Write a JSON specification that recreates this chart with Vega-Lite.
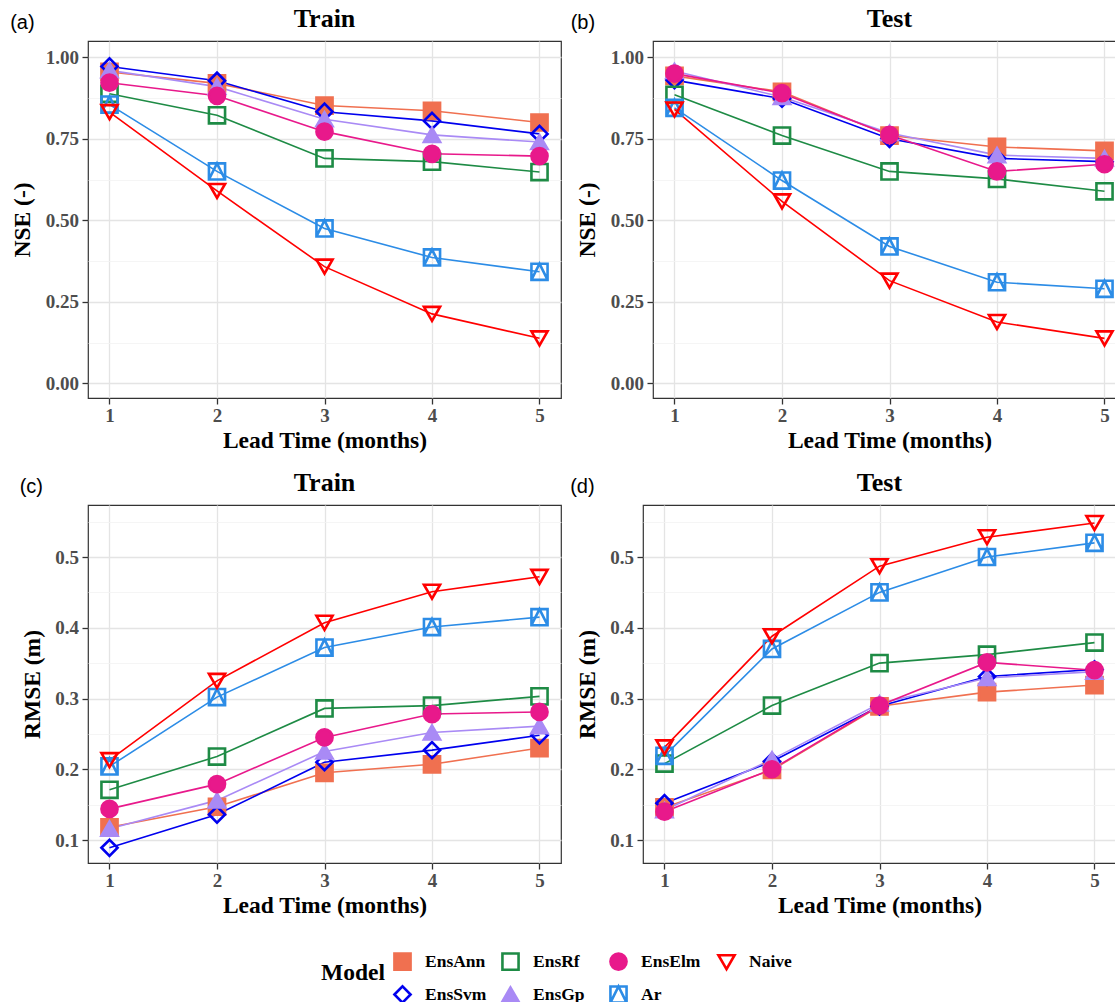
{
  "$schema": "https://vega.github.io/schema/vega-lite/v6.json",
  "background": "white",
  "padding": {"left": 10, "top": 5, "right": 0, "bottom": 0},
  "datasets": {
    "scores": [
      {"metric": "NSE", "set": "Train", "lead": 1, "model": "EnsAnn", "value": 0.955},
      {"metric": "NSE", "set": "Train", "lead": 2, "model": "EnsAnn", "value": 0.92},
      {"metric": "NSE", "set": "Train", "lead": 3, "model": "EnsAnn", "value": 0.852},
      {"metric": "NSE", "set": "Train", "lead": 4, "model": "EnsAnn", "value": 0.836},
      {"metric": "NSE", "set": "Train", "lead": 5, "model": "EnsAnn", "value": 0.8},
      {"metric": "NSE", "set": "Train", "lead": 1, "model": "EnsSvm", "value": 0.972},
      {"metric": "NSE", "set": "Train", "lead": 2, "model": "EnsSvm", "value": 0.928},
      {"metric": "NSE", "set": "Train", "lead": 3, "model": "EnsSvm", "value": 0.833},
      {"metric": "NSE", "set": "Train", "lead": 4, "model": "EnsSvm", "value": 0.805},
      {"metric": "NSE", "set": "Train", "lead": 5, "model": "EnsSvm", "value": 0.765},
      {"metric": "NSE", "set": "Train", "lead": 1, "model": "EnsRf", "value": 0.888},
      {"metric": "NSE", "set": "Train", "lead": 2, "model": "EnsRf", "value": 0.822},
      {"metric": "NSE", "set": "Train", "lead": 3, "model": "EnsRf", "value": 0.69},
      {"metric": "NSE", "set": "Train", "lead": 4, "model": "EnsRf", "value": 0.68},
      {"metric": "NSE", "set": "Train", "lead": 5, "model": "EnsRf", "value": 0.648},
      {"metric": "NSE", "set": "Train", "lead": 1, "model": "EnsGp", "value": 0.96},
      {"metric": "NSE", "set": "Train", "lead": 2, "model": "EnsGp", "value": 0.91},
      {"metric": "NSE", "set": "Train", "lead": 3, "model": "EnsGp", "value": 0.81},
      {"metric": "NSE", "set": "Train", "lead": 4, "model": "EnsGp", "value": 0.762},
      {"metric": "NSE", "set": "Train", "lead": 5, "model": "EnsGp", "value": 0.74},
      {"metric": "NSE", "set": "Train", "lead": 1, "model": "EnsElm", "value": 0.922},
      {"metric": "NSE", "set": "Train", "lead": 2, "model": "EnsElm", "value": 0.882},
      {"metric": "NSE", "set": "Train", "lead": 3, "model": "EnsElm", "value": 0.772},
      {"metric": "NSE", "set": "Train", "lead": 4, "model": "EnsElm", "value": 0.704},
      {"metric": "NSE", "set": "Train", "lead": 5, "model": "EnsElm", "value": 0.697},
      {"metric": "NSE", "set": "Train", "lead": 1, "model": "Ar", "value": 0.855},
      {"metric": "NSE", "set": "Train", "lead": 2, "model": "Ar", "value": 0.65},
      {"metric": "NSE", "set": "Train", "lead": 3, "model": "Ar", "value": 0.475},
      {"metric": "NSE", "set": "Train", "lead": 4, "model": "Ar", "value": 0.386},
      {"metric": "NSE", "set": "Train", "lead": 5, "model": "Ar", "value": 0.342},
      {"metric": "NSE", "set": "Train", "lead": 1, "model": "Naive", "value": 0.832},
      {"metric": "NSE", "set": "Train", "lead": 2, "model": "Naive", "value": 0.59},
      {"metric": "NSE", "set": "Train", "lead": 3, "model": "Naive", "value": 0.358},
      {"metric": "NSE", "set": "Train", "lead": 4, "model": "Naive", "value": 0.213},
      {"metric": "NSE", "set": "Train", "lead": 5, "model": "Naive", "value": 0.138},

      {"metric": "NSE", "set": "Test", "lead": 1, "model": "EnsAnn", "value": 0.943},
      {"metric": "NSE", "set": "Test", "lead": 2, "model": "EnsAnn", "value": 0.894},
      {"metric": "NSE", "set": "Test", "lead": 3, "model": "EnsAnn", "value": 0.76},
      {"metric": "NSE", "set": "Test", "lead": 4, "model": "EnsAnn", "value": 0.725},
      {"metric": "NSE", "set": "Test", "lead": 5, "model": "EnsAnn", "value": 0.713},
      {"metric": "NSE", "set": "Test", "lead": 1, "model": "EnsSvm", "value": 0.93},
      {"metric": "NSE", "set": "Test", "lead": 2, "model": "EnsSvm", "value": 0.873},
      {"metric": "NSE", "set": "Test", "lead": 3, "model": "EnsSvm", "value": 0.75},
      {"metric": "NSE", "set": "Test", "lead": 4, "model": "EnsSvm", "value": 0.69},
      {"metric": "NSE", "set": "Test", "lead": 5, "model": "EnsSvm", "value": 0.68},
      {"metric": "NSE", "set": "Test", "lead": 1, "model": "EnsRf", "value": 0.885},
      {"metric": "NSE", "set": "Test", "lead": 2, "model": "EnsRf", "value": 0.76},
      {"metric": "NSE", "set": "Test", "lead": 3, "model": "EnsRf", "value": 0.65},
      {"metric": "NSE", "set": "Test", "lead": 4, "model": "EnsRf", "value": 0.627},
      {"metric": "NSE", "set": "Test", "lead": 5, "model": "EnsRf", "value": 0.589},
      {"metric": "NSE", "set": "Test", "lead": 1, "model": "EnsGp", "value": 0.958},
      {"metric": "NSE", "set": "Test", "lead": 2, "model": "EnsGp", "value": 0.878},
      {"metric": "NSE", "set": "Test", "lead": 3, "model": "EnsGp", "value": 0.768},
      {"metric": "NSE", "set": "Test", "lead": 4, "model": "EnsGp", "value": 0.7},
      {"metric": "NSE", "set": "Test", "lead": 5, "model": "EnsGp", "value": 0.69},
      {"metric": "NSE", "set": "Test", "lead": 1, "model": "EnsElm", "value": 0.95},
      {"metric": "NSE", "set": "Test", "lead": 2, "model": "EnsElm", "value": 0.89},
      {"metric": "NSE", "set": "Test", "lead": 3, "model": "EnsElm", "value": 0.762},
      {"metric": "NSE", "set": "Test", "lead": 4, "model": "EnsElm", "value": 0.65},
      {"metric": "NSE", "set": "Test", "lead": 5, "model": "EnsElm", "value": 0.672},
      {"metric": "NSE", "set": "Test", "lead": 1, "model": "Ar", "value": 0.845},
      {"metric": "NSE", "set": "Test", "lead": 2, "model": "Ar", "value": 0.622},
      {"metric": "NSE", "set": "Test", "lead": 3, "model": "Ar", "value": 0.42},
      {"metric": "NSE", "set": "Test", "lead": 4, "model": "Ar", "value": 0.31},
      {"metric": "NSE", "set": "Test", "lead": 5, "model": "Ar", "value": 0.29},
      {"metric": "NSE", "set": "Test", "lead": 1, "model": "Naive", "value": 0.84},
      {"metric": "NSE", "set": "Test", "lead": 2, "model": "Naive", "value": 0.558},
      {"metric": "NSE", "set": "Test", "lead": 3, "model": "Naive", "value": 0.315},
      {"metric": "NSE", "set": "Test", "lead": 4, "model": "Naive", "value": 0.188},
      {"metric": "NSE", "set": "Test", "lead": 5, "model": "Naive", "value": 0.138},

      {"metric": "RMSE", "set": "Train", "lead": 1, "model": "EnsAnn", "value": 0.118},
      {"metric": "RMSE", "set": "Train", "lead": 2, "model": "EnsAnn", "value": 0.147},
      {"metric": "RMSE", "set": "Train", "lead": 3, "model": "EnsAnn", "value": 0.195},
      {"metric": "RMSE", "set": "Train", "lead": 4, "model": "EnsAnn", "value": 0.207},
      {"metric": "RMSE", "set": "Train", "lead": 5, "model": "EnsAnn", "value": 0.23},
      {"metric": "RMSE", "set": "Train", "lead": 1, "model": "EnsSvm", "value": 0.089},
      {"metric": "RMSE", "set": "Train", "lead": 2, "model": "EnsSvm", "value": 0.136},
      {"metric": "RMSE", "set": "Train", "lead": 3, "model": "EnsSvm", "value": 0.21},
      {"metric": "RMSE", "set": "Train", "lead": 4, "model": "EnsSvm", "value": 0.227},
      {"metric": "RMSE", "set": "Train", "lead": 5, "model": "EnsSvm", "value": 0.248},
      {"metric": "RMSE", "set": "Train", "lead": 1, "model": "EnsRf", "value": 0.171},
      {"metric": "RMSE", "set": "Train", "lead": 2, "model": "EnsRf", "value": 0.218},
      {"metric": "RMSE", "set": "Train", "lead": 3, "model": "EnsRf", "value": 0.286},
      {"metric": "RMSE", "set": "Train", "lead": 4, "model": "EnsRf", "value": 0.29},
      {"metric": "RMSE", "set": "Train", "lead": 5, "model": "EnsRf", "value": 0.303},
      {"metric": "RMSE", "set": "Train", "lead": 1, "model": "EnsGp", "value": 0.116},
      {"metric": "RMSE", "set": "Train", "lead": 2, "model": "EnsGp", "value": 0.156},
      {"metric": "RMSE", "set": "Train", "lead": 3, "model": "EnsGp", "value": 0.225},
      {"metric": "RMSE", "set": "Train", "lead": 4, "model": "EnsGp", "value": 0.252},
      {"metric": "RMSE", "set": "Train", "lead": 5, "model": "EnsGp", "value": 0.261},
      {"metric": "RMSE", "set": "Train", "lead": 1, "model": "EnsElm", "value": 0.144},
      {"metric": "RMSE", "set": "Train", "lead": 2, "model": "EnsElm", "value": 0.179},
      {"metric": "RMSE", "set": "Train", "lead": 3, "model": "EnsElm", "value": 0.245},
      {"metric": "RMSE", "set": "Train", "lead": 4, "model": "EnsElm", "value": 0.278},
      {"metric": "RMSE", "set": "Train", "lead": 5, "model": "EnsElm", "value": 0.281},
      {"metric": "RMSE", "set": "Train", "lead": 1, "model": "Ar", "value": 0.204},
      {"metric": "RMSE", "set": "Train", "lead": 2, "model": "Ar", "value": 0.302},
      {"metric": "RMSE", "set": "Train", "lead": 3, "model": "Ar", "value": 0.372},
      {"metric": "RMSE", "set": "Train", "lead": 4, "model": "Ar", "value": 0.401},
      {"metric": "RMSE", "set": "Train", "lead": 5, "model": "Ar", "value": 0.415},
      {"metric": "RMSE", "set": "Train", "lead": 1, "model": "Naive", "value": 0.213},
      {"metric": "RMSE", "set": "Train", "lead": 2, "model": "Naive", "value": 0.325},
      {"metric": "RMSE", "set": "Train", "lead": 3, "model": "Naive", "value": 0.407},
      {"metric": "RMSE", "set": "Train", "lead": 4, "model": "Naive", "value": 0.451},
      {"metric": "RMSE", "set": "Train", "lead": 5, "model": "Naive", "value": 0.472},

      {"metric": "RMSE", "set": "Test", "lead": 1, "model": "EnsAnn", "value": 0.146},
      {"metric": "RMSE", "set": "Test", "lead": 2, "model": "EnsAnn", "value": 0.199},
      {"metric": "RMSE", "set": "Test", "lead": 3, "model": "EnsAnn", "value": 0.289},
      {"metric": "RMSE", "set": "Test", "lead": 4, "model": "EnsAnn", "value": 0.309},
      {"metric": "RMSE", "set": "Test", "lead": 5, "model": "EnsAnn", "value": 0.319},
      {"metric": "RMSE", "set": "Test", "lead": 1, "model": "EnsSvm", "value": 0.152},
      {"metric": "RMSE", "set": "Test", "lead": 2, "model": "EnsSvm", "value": 0.211},
      {"metric": "RMSE", "set": "Test", "lead": 3, "model": "EnsSvm", "value": 0.289},
      {"metric": "RMSE", "set": "Test", "lead": 4, "model": "EnsSvm", "value": 0.331},
      {"metric": "RMSE", "set": "Test", "lead": 5, "model": "EnsSvm", "value": 0.341},
      {"metric": "RMSE", "set": "Test", "lead": 1, "model": "EnsRf", "value": 0.208},
      {"metric": "RMSE", "set": "Test", "lead": 2, "model": "EnsRf", "value": 0.29},
      {"metric": "RMSE", "set": "Test", "lead": 3, "model": "EnsRf", "value": 0.35},
      {"metric": "RMSE", "set": "Test", "lead": 4, "model": "EnsRf", "value": 0.362},
      {"metric": "RMSE", "set": "Test", "lead": 5, "model": "EnsRf", "value": 0.379},
      {"metric": "RMSE", "set": "Test", "lead": 1, "model": "EnsGp", "value": 0.142},
      {"metric": "RMSE", "set": "Test", "lead": 2, "model": "EnsGp", "value": 0.214},
      {"metric": "RMSE", "set": "Test", "lead": 3, "model": "EnsGp", "value": 0.293},
      {"metric": "RMSE", "set": "Test", "lead": 4, "model": "EnsGp", "value": 0.329},
      {"metric": "RMSE", "set": "Test", "lead": 5, "model": "EnsGp", "value": 0.338},
      {"metric": "RMSE", "set": "Test", "lead": 1, "model": "EnsElm", "value": 0.14},
      {"metric": "RMSE", "set": "Test", "lead": 2, "model": "EnsElm", "value": 0.2},
      {"metric": "RMSE", "set": "Test", "lead": 3, "model": "EnsElm", "value": 0.29},
      {"metric": "RMSE", "set": "Test", "lead": 4, "model": "EnsElm", "value": 0.351},
      {"metric": "RMSE", "set": "Test", "lead": 5, "model": "EnsElm", "value": 0.34},
      {"metric": "RMSE", "set": "Test", "lead": 1, "model": "Ar", "value": 0.219},
      {"metric": "RMSE", "set": "Test", "lead": 2, "model": "Ar", "value": 0.37},
      {"metric": "RMSE", "set": "Test", "lead": 3, "model": "Ar", "value": 0.45},
      {"metric": "RMSE", "set": "Test", "lead": 4, "model": "Ar", "value": 0.5},
      {"metric": "RMSE", "set": "Test", "lead": 5, "model": "Ar", "value": 0.52},
      {"metric": "RMSE", "set": "Test", "lead": 1, "model": "Naive", "value": 0.231},
      {"metric": "RMSE", "set": "Test", "lead": 2, "model": "Naive", "value": 0.388},
      {"metric": "RMSE", "set": "Test", "lead": 3, "model": "Naive", "value": 0.487},
      {"metric": "RMSE", "set": "Test", "lead": 4, "model": "Naive", "value": 0.528},
      {"metric": "RMSE", "set": "Test", "lead": 5, "model": "Naive", "value": 0.548}
    ]
  },
  "data": {"name": "scores"},
  "config": {
    "view": {"stroke": "#333333", "strokeWidth": 1.2},
    "title": {"font": "Liberation Serif", "fontSize": 26, "fontWeight": "bold", "color": "#000000", "frame": "group", "anchor": "middle", "offset": 9},
    "axis": {
      "domain": false,
      "tickColor": "#333333",
      "tickSize": 6,
      "tickWidth": 1.3,
      "labelFont": "Liberation Serif",
      "labelFontWeight": "bold",
      "labelFontSize": 19,
      "labelColor": "#4D4D4D",
      "titleFont": "Liberation Serif",
      "titleFontWeight": "bold",
      "titleFontSize": 23.5,
      "titleColor": "#000000"
    },
    "axisX": {"titlePadding": 3, "labelPadding": 2},
    "axisY": {"titlePadding": 10.5, "labelPadding": 3.5},
    "legend": {
      "orient": "none",
      "legendX": 233,
      "legendY": 911,
      "direction": "horizontal",
      "columns": 4,
      "gridAlign": "all",
      "titleOrient": "left",
      "titleFont": "Liberation Serif",
      "titleFontSize": 23.5,
      "titleFontWeight": "bold",
      "titleColor": "#000000",
      "titlePadding": 8,
      "titleAnchor": "middle",
      "titleBaseline": "alphabetic",
      "labelFont": "Liberation Serif",
      "labelFontSize": 17.5,
      "labelFontWeight": "bold",
      "labelColor": "#000000",
      "labelOffset": 13,
      "symbolStrokeWidth": 2.6,
      "columnPadding": 10,
      "rowPadding": 6
    }
  },
  "resolve": {"scale": {"color": "shared", "shape": "shared", "fill": "shared", "size": "shared"}},
  "spacing": 16,
  "vconcat": [
    {
      "spacing": 8,
      "hconcat": [
        {
          "title": {"text": "(a)", "anchor": "start", "frame": "bounds", "font": "Liberation Sans", "fontSize": 20, "fontWeight": "normal", "color": "#000000", "offset": -28},
          "vconcat": [
            {
              "width": 473, "height": 357,
              "title": "Train",
              "transform": [{"filter": "datum.metric === 'NSE' && datum.set === 'Train'"}],
              "encoding": {
                "x": {"field": "lead", "type": "quantitative", "scale": {"domain": [0.8, 5.2], "nice": false, "zero": false},
                  "axis": {"title": "Lead Time (months)", "values": [1, 1.5, 2, 2.5, 3, 3.5, 4, 4.5, 5], "format": "d", "labelExpr": "datum.value % 1 === 0 ? datum.label : ''",
                    "tickOpacity": {"condition": {"test": "datum.value % 1 !== 0", "value": 0}, "value": 1},
                    "gridColor": {"condition": {"test": "datum.value % 1 !== 0", "value": "#F2F2F2"}, "value": "#E4E4E4"},
                    "gridWidth": {"condition": {"test": "datum.value % 1 !== 0", "value": 0.8}, "value": 1.3}}},
                "y": {"field": "value", "type": "quantitative", "scale": {"domain": [-0.045, 1.05], "nice": false, "zero": false},
                  "axis": {"title": "NSE (-)", "values": [0, 0.125, 0.25, 0.375, 0.5, 0.625, 0.75, 0.875, 1], "format": ".2f", "labelExpr": "(datum.value * 4) % 1 === 0 ? datum.label : ''",
                    "tickOpacity": {"condition": {"test": "(datum.value * 4) % 1 !== 0", "value": 0}, "value": 1},
                    "gridColor": {"condition": {"test": "(datum.value * 4) % 1 !== 0", "value": "#F2F2F2"}, "value": "#E4E4E4"},
                    "gridWidth": {"condition": {"test": "(datum.value * 4) % 1 !== 0", "value": 0.8}, "value": 1.3}}},
                "color": {"field": "model", "type": "nominal", "title": "Model",
                  "scale": {"domain": ["EnsAnn", "EnsRf", "EnsElm", "Naive", "EnsSvm", "EnsGp", "Ar"], "range": ["#F07050", "#1E8B45", "#E8198B", "#FF0000", "#0000EE", "#A98AF5", "#2C8CE6"]}}
              },
              "layer": [
                {"mark": {"type": "line", "strokeWidth": 1.6}},
                {"mark": {"type": "point", "filled": false, "strokeWidth": 2.6, "opacity": 1},
                  "encoding": {
                    "shape": {"field": "model", "type": "nominal", "title": "Model", "scale": {"domain": ["EnsAnn", "EnsRf", "EnsElm", "Naive", "EnsSvm", "EnsGp", "Ar"], "range": ["square", "square", "circle", "triangle-down", "diamond", "triangle-up", "M-1,-1H1V1H-1Z M-1,1L0,-1L1,1"]}},
                    "fill": {"field": "model", "type": "nominal", "title": "Model", "scale": {"domain": ["EnsAnn", "EnsRf", "EnsElm", "Naive", "EnsSvm", "EnsGp", "Ar"], "range": ["#F07050", "transparent", "#E8198B", "transparent", "transparent", "#A98AF5", "transparent"]}},
                    "size": {"field": "model", "type": "nominal", "title": "Model", "scale": {"domain": ["EnsAnn", "EnsRf", "EnsElm", "Naive", "EnsSvm", "EnsGp", "Ar"], "range": [260, 260, 230, 380, 420, 320, 300]}}
                  }}
              ]
            }
          ]
        },
        {
          "title": {"text": "(b)", "anchor": "start", "frame": "bounds", "font": "Liberation Sans", "fontSize": 20, "fontWeight": "normal", "color": "#000000", "offset": -28, "dx": -4.5},
          "vconcat": [
            {
              "width": 473, "height": 357,
              "title": "Test",
              "transform": [{"filter": "datum.metric === 'NSE' && datum.set === 'Test'"}],
              "encoding": {
                "x": {"field": "lead", "type": "quantitative", "scale": {"domain": [0.8, 5.2], "nice": false, "zero": false},
                  "axis": {"title": "Lead Time (months)", "values": [1, 1.5, 2, 2.5, 3, 3.5, 4, 4.5, 5], "format": "d", "labelExpr": "datum.value % 1 === 0 ? datum.label : ''",
                    "tickOpacity": {"condition": {"test": "datum.value % 1 !== 0", "value": 0}, "value": 1},
                    "gridColor": {"condition": {"test": "datum.value % 1 !== 0", "value": "#F2F2F2"}, "value": "#E4E4E4"},
                    "gridWidth": {"condition": {"test": "datum.value % 1 !== 0", "value": 0.8}, "value": 1.3}}},
                "y": {"field": "value", "type": "quantitative", "scale": {"domain": [-0.045, 1.05], "nice": false, "zero": false},
                  "axis": {"title": "NSE (-)", "values": [0, 0.125, 0.25, 0.375, 0.5, 0.625, 0.75, 0.875, 1], "format": ".2f", "labelExpr": "(datum.value * 4) % 1 === 0 ? datum.label : ''",
                    "tickOpacity": {"condition": {"test": "(datum.value * 4) % 1 !== 0", "value": 0}, "value": 1},
                    "gridColor": {"condition": {"test": "(datum.value * 4) % 1 !== 0", "value": "#F2F2F2"}, "value": "#E4E4E4"},
                    "gridWidth": {"condition": {"test": "(datum.value * 4) % 1 !== 0", "value": 0.8}, "value": 1.3}}},
                "color": {"field": "model", "type": "nominal", "title": "Model",
                  "scale": {"domain": ["EnsAnn", "EnsRf", "EnsElm", "Naive", "EnsSvm", "EnsGp", "Ar"], "range": ["#F07050", "#1E8B45", "#E8198B", "#FF0000", "#0000EE", "#A98AF5", "#2C8CE6"]}}
              },
              "layer": [
                {"mark": {"type": "line", "strokeWidth": 1.6}},
                {"mark": {"type": "point", "filled": false, "strokeWidth": 2.6, "opacity": 1},
                  "encoding": {
                    "shape": {"field": "model", "type": "nominal", "title": "Model", "scale": {"domain": ["EnsAnn", "EnsRf", "EnsElm", "Naive", "EnsSvm", "EnsGp", "Ar"], "range": ["square", "square", "circle", "triangle-down", "diamond", "triangle-up", "M-1,-1H1V1H-1Z M-1,1L0,-1L1,1"]}},
                    "fill": {"field": "model", "type": "nominal", "title": "Model", "scale": {"domain": ["EnsAnn", "EnsRf", "EnsElm", "Naive", "EnsSvm", "EnsGp", "Ar"], "range": ["#F07050", "transparent", "#E8198B", "transparent", "transparent", "#A98AF5", "transparent"]}},
                    "size": {"field": "model", "type": "nominal", "title": "Model", "scale": {"domain": ["EnsAnn", "EnsRf", "EnsElm", "Naive", "EnsSvm", "EnsGp", "Ar"], "range": [260, 260, 230, 380, 420, 320, 300]}}
                  }}
              ]
            }
          ]
        }
      ]
    },
    {
      "spacing": 8,
      "hconcat": [
        {
          "title": {"text": "(c)", "anchor": "start", "frame": "bounds", "font": "Liberation Sans", "fontSize": 20, "fontWeight": "normal", "color": "#000000", "offset": -28},
          "vconcat": [
            {
              "width": 473, "height": 358,
              "title": "Train",
              "transform": [{"filter": "datum.metric === 'RMSE' && datum.set === 'Train'"}],
              "encoding": {
                "x": {"field": "lead", "type": "quantitative", "scale": {"domain": [0.8, 5.2], "nice": false, "zero": false},
                  "axis": {"title": "Lead Time (months)", "values": [1, 1.5, 2, 2.5, 3, 3.5, 4, 4.5, 5], "format": "d", "labelExpr": "datum.value % 1 === 0 ? datum.label : ''",
                    "tickOpacity": {"condition": {"test": "datum.value % 1 !== 0", "value": 0}, "value": 1},
                    "gridColor": {"condition": {"test": "datum.value % 1 !== 0", "value": "#F2F2F2"}, "value": "#E4E4E4"},
                    "gridWidth": {"condition": {"test": "datum.value % 1 !== 0", "value": 0.8}, "value": 1.3}}},
                "y": {"field": "value", "type": "quantitative", "scale": {"domain": [0.0675, 0.5735], "nice": false, "zero": false},
                  "axis": {"title": "RMSE (m)", "values": [0.1, 0.15, 0.2, 0.25, 0.3, 0.35, 0.4, 0.45, 0.5, 0.55], "format": ".1f", "labelExpr": "abs(datum.value * 10 - round(datum.value * 10)) < 0.01 ? datum.label : ''",
                    "tickOpacity": {"condition": {"test": "abs(datum.value * 10 - round(datum.value * 10)) > 0.01", "value": 0}, "value": 1},
                    "gridColor": {"condition": {"test": "abs(datum.value * 10 - round(datum.value * 10)) > 0.01", "value": "#F2F2F2"}, "value": "#E4E4E4"},
                    "gridWidth": {"condition": {"test": "abs(datum.value * 10 - round(datum.value * 10)) > 0.01", "value": 0.8}, "value": 1.3}}},
                "color": {"field": "model", "type": "nominal", "title": "Model",
                  "scale": {"domain": ["EnsAnn", "EnsRf", "EnsElm", "Naive", "EnsSvm", "EnsGp", "Ar"], "range": ["#F07050", "#1E8B45", "#E8198B", "#FF0000", "#0000EE", "#A98AF5", "#2C8CE6"]}}
              },
              "layer": [
                {"mark": {"type": "line", "strokeWidth": 1.6}},
                {"mark": {"type": "point", "filled": false, "strokeWidth": 2.6, "opacity": 1},
                  "encoding": {
                    "shape": {"field": "model", "type": "nominal", "title": "Model", "scale": {"domain": ["EnsAnn", "EnsRf", "EnsElm", "Naive", "EnsSvm", "EnsGp", "Ar"], "range": ["square", "square", "circle", "triangle-down", "diamond", "triangle-up", "M-1,-1H1V1H-1Z M-1,1L0,-1L1,1"]}},
                    "fill": {"field": "model", "type": "nominal", "title": "Model", "scale": {"domain": ["EnsAnn", "EnsRf", "EnsElm", "Naive", "EnsSvm", "EnsGp", "Ar"], "range": ["#F07050", "transparent", "#E8198B", "transparent", "transparent", "#A98AF5", "transparent"]}},
                    "size": {"field": "model", "type": "nominal", "title": "Model", "scale": {"domain": ["EnsAnn", "EnsRf", "EnsElm", "Naive", "EnsSvm", "EnsGp", "Ar"], "range": [260, 260, 230, 380, 420, 320, 300]}}
                  }}
              ]
            }
          ]
        },
        {
          "title": {"text": "(d)", "anchor": "start", "frame": "bounds", "font": "Liberation Sans", "fontSize": 20, "fontWeight": "normal", "color": "#000000", "offset": -28, "dx": -4.5},
          "vconcat": [
            {
              "width": 473, "height": 358,
              "title": "Test",
              "transform": [{"filter": "datum.metric === 'RMSE' && datum.set === 'Test'"}],
              "encoding": {
                "x": {"field": "lead", "type": "quantitative", "scale": {"domain": [0.8, 5.2], "nice": false, "zero": false},
                  "axis": {"title": "Lead Time (months)", "values": [1, 1.5, 2, 2.5, 3, 3.5, 4, 4.5, 5], "format": "d", "labelExpr": "datum.value % 1 === 0 ? datum.label : ''",
                    "tickOpacity": {"condition": {"test": "datum.value % 1 !== 0", "value": 0}, "value": 1},
                    "gridColor": {"condition": {"test": "datum.value % 1 !== 0", "value": "#F2F2F2"}, "value": "#E4E4E4"},
                    "gridWidth": {"condition": {"test": "datum.value % 1 !== 0", "value": 0.8}, "value": 1.3}}},
                "y": {"field": "value", "type": "quantitative", "scale": {"domain": [0.0675, 0.5735], "nice": false, "zero": false},
                  "axis": {"title": "RMSE (m)", "values": [0.1, 0.15, 0.2, 0.25, 0.3, 0.35, 0.4, 0.45, 0.5, 0.55], "format": ".1f", "labelExpr": "abs(datum.value * 10 - round(datum.value * 10)) < 0.01 ? datum.label : ''",
                    "tickOpacity": {"condition": {"test": "abs(datum.value * 10 - round(datum.value * 10)) > 0.01", "value": 0}, "value": 1},
                    "gridColor": {"condition": {"test": "abs(datum.value * 10 - round(datum.value * 10)) > 0.01", "value": "#F2F2F2"}, "value": "#E4E4E4"},
                    "gridWidth": {"condition": {"test": "abs(datum.value * 10 - round(datum.value * 10)) > 0.01", "value": 0.8}, "value": 1.3}}},
                "color": {"field": "model", "type": "nominal", "title": "Model",
                  "scale": {"domain": ["EnsAnn", "EnsRf", "EnsElm", "Naive", "EnsSvm", "EnsGp", "Ar"], "range": ["#F07050", "#1E8B45", "#E8198B", "#FF0000", "#0000EE", "#A98AF5", "#2C8CE6"]}}
              },
              "layer": [
                {"mark": {"type": "line", "strokeWidth": 1.6}},
                {"mark": {"type": "point", "filled": false, "strokeWidth": 2.6, "opacity": 1},
                  "encoding": {
                    "shape": {"field": "model", "type": "nominal", "title": "Model", "scale": {"domain": ["EnsAnn", "EnsRf", "EnsElm", "Naive", "EnsSvm", "EnsGp", "Ar"], "range": ["square", "square", "circle", "triangle-down", "diamond", "triangle-up", "M-1,-1H1V1H-1Z M-1,1L0,-1L1,1"]}},
                    "fill": {"field": "model", "type": "nominal", "title": "Model", "scale": {"domain": ["EnsAnn", "EnsRf", "EnsElm", "Naive", "EnsSvm", "EnsGp", "Ar"], "range": ["#F07050", "transparent", "#E8198B", "transparent", "transparent", "#A98AF5", "transparent"]}},
                    "size": {"field": "model", "type": "nominal", "title": "Model", "scale": {"domain": ["EnsAnn", "EnsRf", "EnsElm", "Naive", "EnsSvm", "EnsGp", "Ar"], "range": [260, 260, 230, 380, 420, 320, 300]}}
                  }}
              ]
            }
          ]
        }
      ]
    }
  ]
}
